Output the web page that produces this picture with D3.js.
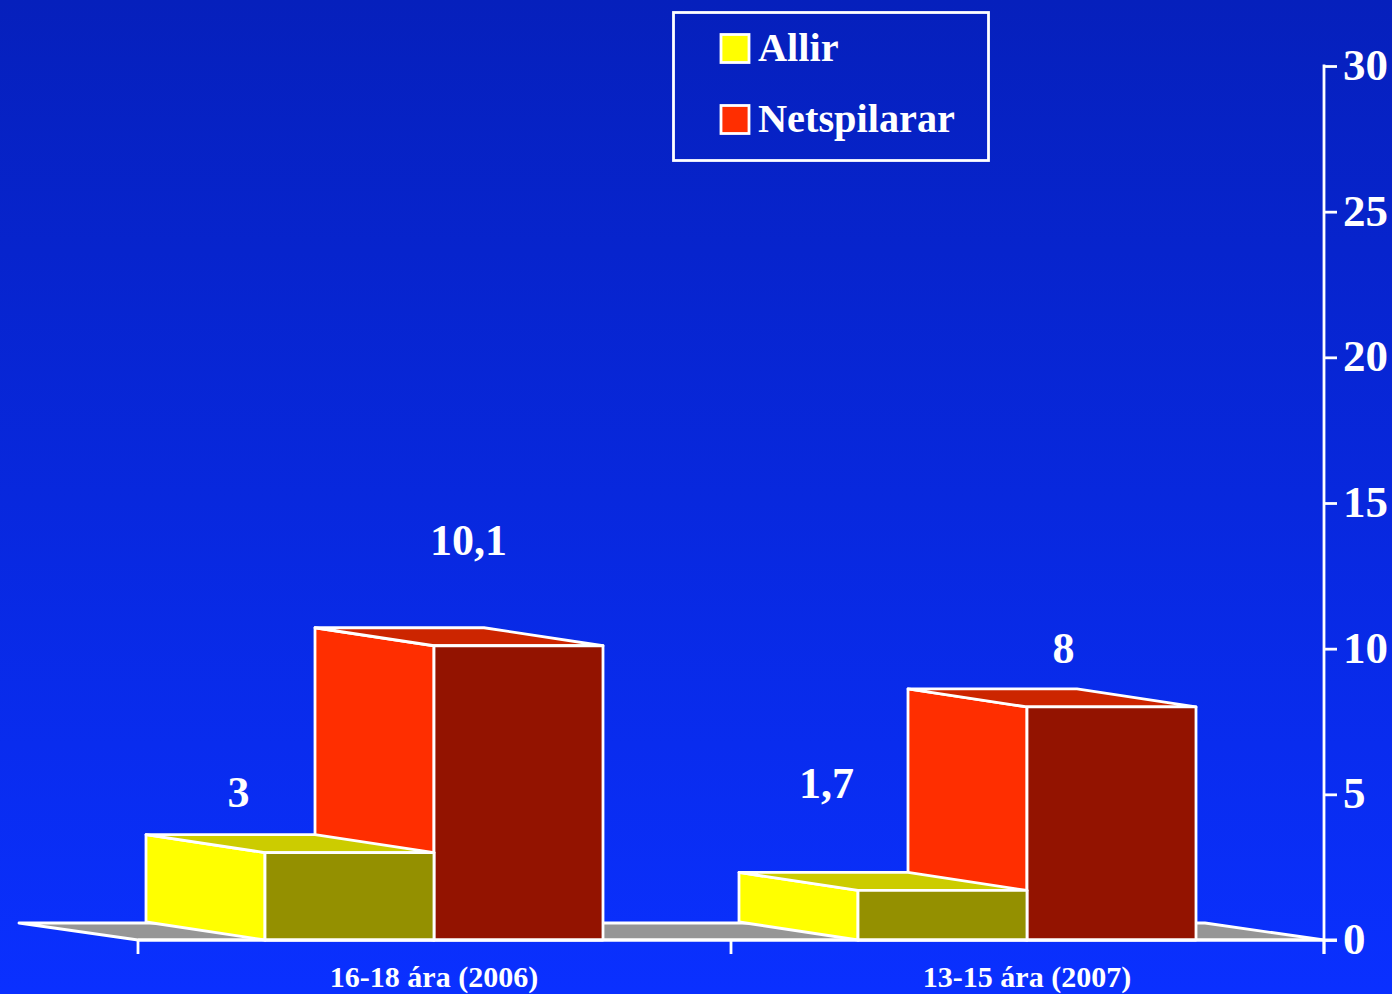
<!DOCTYPE html>
<html>
<head>
<meta charset="utf-8">
<title>Allir / Netspilarar</title>
<script src="https://cdn.jsdelivr.net/npm/d3@7"></script>
<style>
  html, body { margin: 0; padding: 0; background: #0a30ff; overflow: hidden; }
  svg { display: block; }
  text { font-family: "Liberation Serif", serif; font-weight: bold; fill: #fff; }
</style>
</head>
<body>
<svg id="chart" width="1392" height="994"></svg>
<script>
// chart data
const categories = ["16-18 ára (2006)", "13-15 ára (2007)"];
const seriesNames = ["Allir", "Netspilarar"];
const allir = [3, 1.7];
const netspilarar = [10.1, 8];
const valueLabels = [["3", "1,7"], ["10,1", "8"]];
const yTicks = [0, 5, 10, 15, 20, 25, 30];

// chart specs
const svg_width = 1392;
const svg_height = 994;
const depthX = -119; // 3d box offset
const depthY = -18;
const white = "#fff";
const lineW = 2.8;
const faces = {
  Allir: { side: "#ffff00", top: "#cccc00", front: "#949000" },
  Netspilarar: { side: "#ff2e00", top: "#cc2500", front: "#931300" },
};
// label shift from the middle of each box front, [dx, dy]
const labelShift = [
  [[-111, -46], [-116, -92]],
  [[-50, -91], [-48, -44]],
];

const svg = d3.select("#chart");

// background gradient
const grad = svg.append("defs").append("linearGradient")
  .attr("id", "bg").attr("x1", 0).attr("x2", 0).attr("y1", 0).attr("y2", 1);
grad.append("stop").attr("offset", "0%").attr("stop-color", "#0620bc");
grad.append("stop").attr("offset", "100%").attr("stop-color", "#0a30ff");
svg.append("rect").attr("width", svg_width).attr("height", svg_height).attr("fill", "url(#bg)");

// scales
const yScale = d3.scaleLinear().domain([0, 30]).range([940, 66]);
const xGroup = d3.scaleBand().domain(categories).range([138, 1324]);
const xBar = d3.scaleBand().domain(seriesNames).range([127, 465]);
const baseY = yScale(0);

// floor under the boxes
const floorPts = [
  [xGroup.range()[0], baseY],
  [xGroup.range()[0] + depthX, baseY + depthY + 1],
  [xGroup.range()[1] + depthX, baseY + depthY + 1],
  [xGroup.range()[1], baseY],
];
svg.append("polygon")
  .attr("points", floorPts.join(" "))
  .attr("fill", "#969696")
  .attr("stroke", white)
  .attr("stroke-width", lineW)
  .attr("stroke-linejoin", "round");

// y axis on the right
const yAxis = d3.axisRight(yScale).tickValues(yTicks).tickSize(13).tickPadding(6).tickFormat(d3.format("d"));
const yG = svg.append("g").attr("transform", `translate(${xGroup.range()[1]},0)`).call(yAxis);
yG.select(".domain").remove();
yG.selectAll(".tick line").attr("stroke", white).attr("stroke-width", lineW);
yG.selectAll(".tick text").attr("font-size", 45).attr("fill", white).attr("dy", "0.3em");
yG.append("line")
  .attr("y1", yScale(30) - 1.5).attr("y2", baseY + 14)
  .attr("stroke", white).attr("stroke-width", lineW);

// category ticks sit on the band edges
const edgeTicks = categories.map((c) => xGroup(c)).concat(xGroup.range()[1]);
svg.append("g").selectAll("line").data(edgeTicks).enter().append("line")
  .attr("x1", (d) => d).attr("x2", (d) => d)
  .attr("y1", baseY).attr("y2", baseY + 14)
  .attr("stroke", white).attr("stroke-width", lineW);

// one 3d box: side and top faces go behind the front
function drawBox(g, x, w, value, colours) {
  const top = yScale(value);
  const face = (pts, fill) => g.append("polygon")
    .attr("points", pts.join(" "))
    .attr("fill", fill)
    .attr("stroke", white)
    .attr("stroke-width", lineW)
    .attr("stroke-linejoin", "round");
  face([[x, top], [x + depthX, top + depthY], [x + depthX, baseY + depthY], [x, baseY]], colours.side);
  face([[x, top], [x + depthX, top + depthY], [x + w + depthX, top + depthY], [x + w, top]], colours.top);
  face([[x, top], [x + w, top], [x + w, baseY], [x, baseY]], colours.front);
}

// boxes, red first because the yellow top covers its side
const seriesValues = [allir, netspilarar];
categories.forEach((c, i) => {
  const g = svg.append("g");
  [1, 0].forEach((s) => {
    const name = seriesNames[s];
    drawBox(g, xGroup(c) + xBar(name), xBar.bandwidth(), seriesValues[s][i], faces[name]);
  });
});

// baseline over the box feet
svg.append("line")
  .attr("x1", xGroup.range()[0]).attr("x2", xGroup.range()[1] + 13)
  .attr("y1", baseY).attr("y2", baseY)
  .attr("stroke", white).attr("stroke-width", lineW);

// value labels
seriesNames.forEach((name, s) => {
  categories.forEach((c, i) => {
    const cx = xGroup(c) + xBar(name) + xBar.bandwidth() / 2;
    svg.append("text")
      .attr("x", cx + labelShift[s][i][0])
      .attr("y", yScale(seriesValues[s][i]) + labelShift[s][i][1])
      .attr("text-anchor", "middle")
      .attr("font-size", 44)
      .text(valueLabels[s][i]);
  });
});

// category labels
svg.append("g").selectAll("text").data(categories).enter().append("text")
  .attr("x", (d) => xGroup(d) + (xBar.range()[0] + xBar.range()[1]) / 2)
  .attr("y", 987)
  .attr("text-anchor", "middle")
  .attr("font-size", 30)
  .text((d) => d);

// legend
svg.append("rect")
  .attr("x", 673.5).attr("y", 12.5).attr("width", 315).attr("height", 148)
  .attr("fill", "none").attr("stroke", white).attr("stroke-width", lineW);
const legendY = d3.scalePoint().domain(seriesNames).range([48.5, 119.5]);
const legend = svg.append("g").selectAll("g").data(seriesNames).enter().append("g")
  .attr("transform", (d) => `translate(720,${legendY(d)})`);
legend.append("rect")
  .attr("x", 1).attr("y", -14).attr("width", 28).attr("height", 28)
  .attr("fill", (d) => faces[d].side)
  .attr("stroke", white).attr("stroke-width", lineW);
legend.append("text")
  .attr("x", 38).attr("y", 12)
  .attr("font-size", 40.3)
  .text((d) => d);
</script>
</body>
</html>
